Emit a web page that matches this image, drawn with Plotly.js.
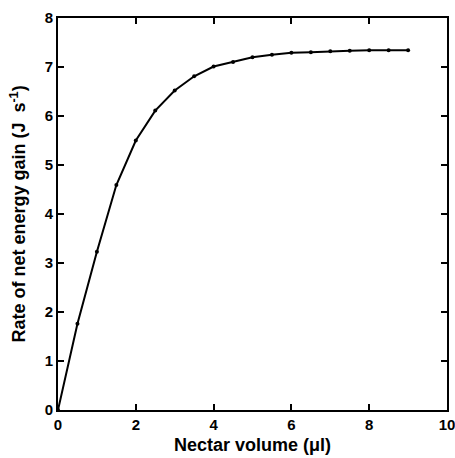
<!DOCTYPE html>
<html>
<head>
<meta charset="utf-8">
<script src="https://cdn.plot.ly/plotly-3.0.1.min.js"></script>
<style>html,body{margin:0;padding:0;background:#fff;}#chart{width:455px;height:458px;}</style>
</head>
<body>
<div id="chart"></div>
<script>
const nectarVolume = [0, 0.5, 1, 1.5, 2, 2.5, 3, 3.5, 4, 4.5, 5, 5.5, 6, 6.5, 7, 7.5, 8, 8.5, 9];
const energyGain = [0, 1.76, 3.23, 4.59, 5.50, 6.11, 6.52, 6.81, 7.01, 7.10, 7.20, 7.25, 7.29, 7.30, 7.32, 7.33, 7.34, 7.34, 7.34];
const xTicks = [0, 2, 4, 6, 8, 10];
const yTicks = [0, 1, 2, 3, 4, 5, 6, 7, 8];

const fontFam = 'Liberation Sans, Arial, sans-serif';
const axisCommon = {
  showgrid: false, zeroline: false, showline: true, linecolor: '#000', linewidth: 2,
  mirror: 'ticks', ticks: 'inside', ticklen: 6, tickwidth: 2, tickcolor: '#000',
  ticklabeloverflow: 'allow',
  tickfont: {family: fontFam, size: 15, color: '#000', weight: 'bold'}
};
const layout = {
  width: 455, height: 458,
  margin: {l: 58, r: 8, t: 18, b: 48},
  paper_bgcolor: '#fff', plot_bgcolor: '#fff',
  showlegend: false,
  xaxis: Object.assign({}, axisCommon, {
    range: [0, 10], tickvals: xTicks, ticktext: xTicks.map(String),
    title: {text: 'Nectar volume (μl)', font: {family: fontFam, size: 18, color: '#000', weight: 'bold'}, standoff: 6}
  }),
  yaxis: Object.assign({}, axisCommon, {
    range: [0, 8], tickvals: yTicks, ticktext: yTicks.map(String),
    title: {text: 'Rate of net energy gain (J  s<sup>-1</sup>)', font: {family: fontFam, size: 18, color: '#000', weight: 'bold'}, standoff: 14}
  })
};
const data = [{
  x: nectarVolume, y: energyGain, type: 'scatter', mode: 'lines+markers',
  line: {color: '#000', width: 2}, marker: {color: '#000', size: 4},
  cliponaxis: false
}];
Plotly.newPlot('chart', data, layout, {displayModeBar: false, staticPlot: true});
</script>
</body>
</html>
